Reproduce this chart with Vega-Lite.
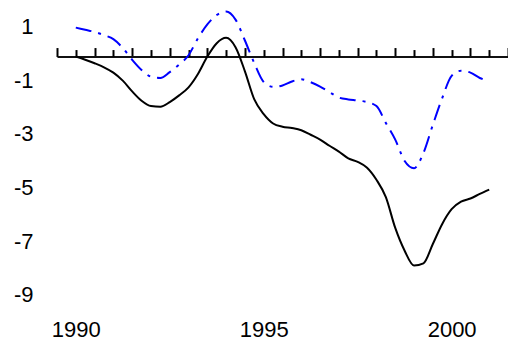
{
  "$schema": "https://vega.github.io/schema/vega-lite/v6.json",
  "width": 451,
  "height": 316,
  "autosize": {"type": "none"},
  "padding": {"left": 57, "top": 3, "right": 0, "bottom": 22},
  "config": {"view": {"stroke": null}, "font": "Liberation Sans"},
  "data": {
    "values": [
      {"year": 1990.00, "series": "A", "value": 0.0},
      {"year": 1990.25, "series": "A", "value": -0.12},
      {"year": 1990.50, "series": "A", "value": -0.25},
      {"year": 1990.75, "series": "A", "value": -0.40},
      {"year": 1991.00, "series": "A", "value": -0.6},
      {"year": 1991.25, "series": "A", "value": -0.9},
      {"year": 1991.50, "series": "A", "value": -1.3},
      {"year": 1991.75, "series": "A", "value": -1.65},
      {"year": 1992.00, "series": "A", "value": -1.85},
      {"year": 1992.25, "series": "A", "value": -1.87},
      {"year": 1992.50, "series": "A", "value": -1.7},
      {"year": 1992.75, "series": "A", "value": -1.45},
      {"year": 1993.00, "series": "A", "value": -1.15},
      {"year": 1993.25, "series": "A", "value": -0.65},
      {"year": 1993.50, "series": "A", "value": 0.0},
      {"year": 1993.75, "series": "A", "value": 0.5},
      {"year": 1994.00, "series": "A", "value": 0.7},
      {"year": 1994.25, "series": "A", "value": 0.35},
      {"year": 1994.50, "series": "A", "value": -0.55},
      {"year": 1994.75, "series": "A", "value": -1.6},
      {"year": 1995.00, "series": "A", "value": -2.15},
      {"year": 1995.25, "series": "A", "value": -2.5},
      {"year": 1995.50, "series": "A", "value": -2.62},
      {"year": 1995.75, "series": "A", "value": -2.67},
      {"year": 1996.00, "series": "A", "value": -2.75},
      {"year": 1996.25, "series": "A", "value": -2.92},
      {"year": 1996.50, "series": "A", "value": -3.1},
      {"year": 1996.75, "series": "A", "value": -3.33},
      {"year": 1997.00, "series": "A", "value": -3.55},
      {"year": 1997.25, "series": "A", "value": -3.8},
      {"year": 1997.50, "series": "A", "value": -3.93},
      {"year": 1997.75, "series": "A", "value": -4.15},
      {"year": 1998.00, "series": "A", "value": -4.6},
      {"year": 1998.25, "series": "A", "value": -5.25},
      {"year": 1998.50, "series": "A", "value": -6.4},
      {"year": 1998.75, "series": "A", "value": -7.25},
      {"year": 1999.00, "series": "A", "value": -7.8},
      {"year": 1999.25, "series": "A", "value": -7.72},
      {"year": 1999.50, "series": "A", "value": -7.0},
      {"year": 1999.75, "series": "A", "value": -6.25},
      {"year": 2000.00, "series": "A", "value": -5.7},
      {"year": 2000.25, "series": "A", "value": -5.42},
      {"year": 2000.50, "series": "A", "value": -5.3},
      {"year": 2000.75, "series": "A", "value": -5.13},
      {"year": 2001.00, "series": "A", "value": -4.97},
      {"year": 1990.00, "series": "B", "value": 1.08},
      {"year": 1990.25, "series": "B", "value": 1.0},
      {"year": 1990.50, "series": "B", "value": 0.92},
      {"year": 1990.75, "series": "B", "value": 0.8},
      {"year": 1991.00, "series": "B", "value": 0.65},
      {"year": 1991.25, "series": "B", "value": 0.32},
      {"year": 1991.50, "series": "B", "value": -0.12},
      {"year": 1991.75, "series": "B", "value": -0.5},
      {"year": 1992.00, "series": "B", "value": -0.75},
      {"year": 1992.25, "series": "B", "value": -0.8},
      {"year": 1992.50, "series": "B", "value": -0.58},
      {"year": 1992.75, "series": "B", "value": -0.3},
      {"year": 1993.00, "series": "B", "value": 0.05},
      {"year": 1993.25, "series": "B", "value": 0.68},
      {"year": 1993.50, "series": "B", "value": 1.2},
      {"year": 1993.75, "series": "B", "value": 1.55},
      {"year": 1994.00, "series": "B", "value": 1.68},
      {"year": 1994.25, "series": "B", "value": 1.38},
      {"year": 1994.50, "series": "B", "value": 0.6},
      {"year": 1994.75, "series": "B", "value": -0.25},
      {"year": 1995.00, "series": "B", "value": -0.95},
      {"year": 1995.25, "series": "B", "value": -1.13},
      {"year": 1995.50, "series": "B", "value": -1.08},
      {"year": 1995.75, "series": "B", "value": -0.93},
      {"year": 1996.00, "series": "B", "value": -0.85},
      {"year": 1996.25, "series": "B", "value": -0.96},
      {"year": 1996.50, "series": "B", "value": -1.12},
      {"year": 1996.75, "series": "B", "value": -1.33},
      {"year": 1997.00, "series": "B", "value": -1.53},
      {"year": 1997.25, "series": "B", "value": -1.6},
      {"year": 1997.50, "series": "B", "value": -1.64},
      {"year": 1997.75, "series": "B", "value": -1.7},
      {"year": 1998.00, "series": "B", "value": -1.85},
      {"year": 1998.25, "series": "B", "value": -2.48},
      {"year": 1998.50, "series": "B", "value": -3.1},
      {"year": 1998.75, "series": "B", "value": -3.9},
      {"year": 1999.00, "series": "B", "value": -4.17},
      {"year": 1999.25, "series": "B", "value": -3.6},
      {"year": 1999.50, "series": "B", "value": -2.55},
      {"year": 1999.75, "series": "B", "value": -1.55},
      {"year": 2000.00, "series": "B", "value": -0.72},
      {"year": 2000.25, "series": "B", "value": -0.53},
      {"year": 2000.50, "series": "B", "value": -0.6},
      {"year": 2000.75, "series": "B", "value": -0.8},
      {"year": 2001.00, "series": "B", "value": -0.92}
    ]
  },
  "encoding": {
    "y": {
      "field": "value",
      "type": "quantitative",
      "scale": {"domain": [-9.8, 2], "nice": false, "zero": false},
      "axis": {
        "values": [1, -1, -3, -5, -7, -9],
        "labelExpr": "replace(datum.label, '\u2212', '-')",
        "title": null,
        "grid": false,
        "domain": false,
        "ticks": false,
        "tickSize": 0,
        "labelPadding": 24,
        "labelOffset": -3,
        "labelFontSize": 22,
        "labelColor": "#000000",
        "labelFont": "Liberation Sans"
      }
    }
  },
  "layer": [
    {
      "transform": [{"filter": "datum.series == 'A'"}],
      "mark": {"type": "line", "color": "#000000", "strokeWidth": 2, "interpolate": "monotone"},
      "encoding": {
        "x": {
          "field": "year",
          "type": "quantitative",
          "scale": {"domain": [1989.5, 2001.5], "nice": false, "zero": false},
          "axis": {
            "orient": "top",
            "offset": -53.56,
            "values": [1989.5, 1990.5, 1991.5, 1992.5, 1993.5, 1994.5, 1995.5, 1996.5, 1997.5, 1998.5, 1999.5, 2000.5, 2001.5],
            "labels": false,
            "title": null,
            "grid": false,
            "domain": true,
            "domainColor": "#111111",
            "domainWidth": 2,
            "ticks": true,
            "tickSize": 9,
            "tickWidth": 2,
            "tickColor": "#000000"
          }
        }
      }
    },
    {
      "transform": [{"filter": "datum.series == 'B'"}],
      "mark": {"type": "line", "color": "#0000FF", "strokeWidth": 2, "interpolate": "monotone", "strokeDash": [16, 7, 3, 7]},
      "encoding": {
        "x": {
          "field": "year",
          "type": "quantitative",
          "axis": {
            "orient": "top",
            "offset": -53.56,
            "values": [1990, 1991, 1992, 1993, 1994, 1995, 1996, 1997, 1998, 1999, 2000, 2001],
            "labels": false,
            "title": null,
            "grid": false,
            "domain": false,
            "ticks": true,
            "tickSize": 7,
            "tickWidth": 2,
            "tickColor": "#000000"
          }
        }
      }
    },
    {
      "transform": [{"filter": "datum.series == 'A'"}],
      "mark": {"type": "line", "opacity": 0},
      "encoding": {
        "x": {
          "field": "year",
          "type": "quantitative",
          "axis": {
            "orient": "bottom",
            "values": [1990, 1995, 2000],
            "format": "d",
            "title": null,
            "grid": false,
            "domain": false,
            "ticks": false,
            "tickSize": 0,
            "labelPadding": 0,
            "labelFontSize": 22,
            "labelColor": "#000000",
            "labelFont": "Liberation Sans"
          }
        }
      }
    }
  ],
  "resolve": {"axis": {"x": "independent"}}
}
